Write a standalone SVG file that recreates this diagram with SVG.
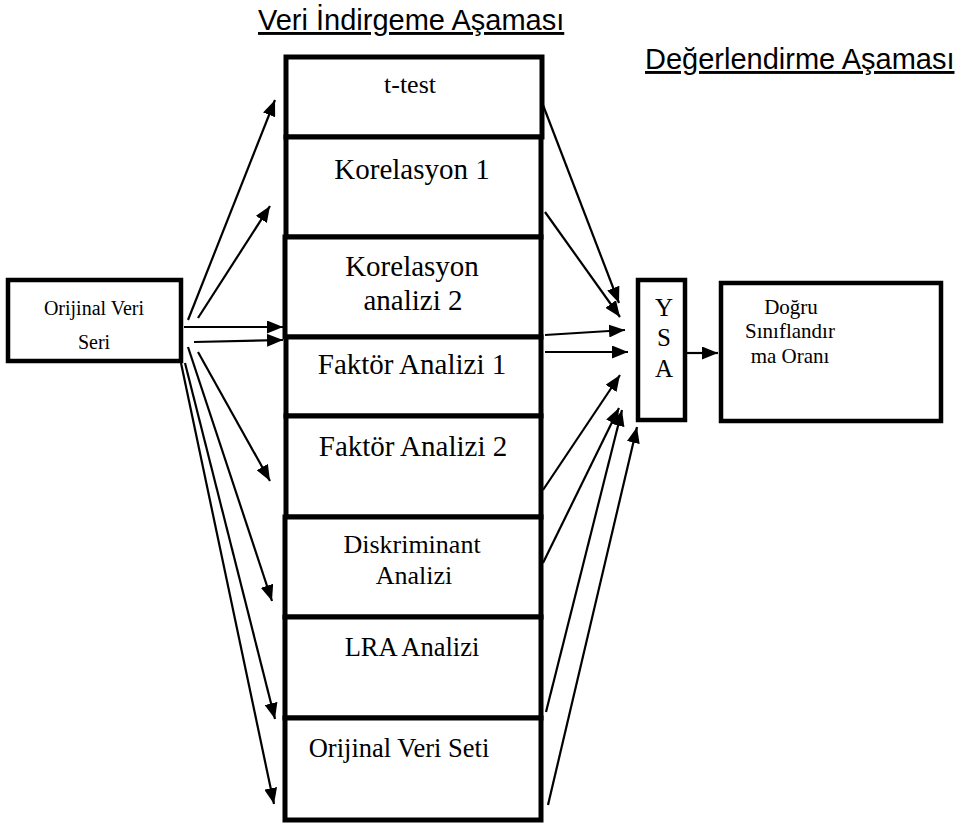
<svg xmlns="http://www.w3.org/2000/svg" width="967" height="826" viewBox="0 0 967 826">
<style>
  .box { fill: #ffffff; stroke: #000000; stroke-width: 5; }
  .thin { fill: #ffffff; stroke: #000000; stroke-width: 4.5; }
  .t { font-family: "Liberation Serif", "Times New Roman", serif; fill: #000000; text-anchor: middle; }
  .title { font-family: "Liberation Sans", Arial, sans-serif; font-size: 29px; fill: #000000; text-decoration: underline; }
  .conn line { stroke: #000000; stroke-width: 2.2; marker-end: url(#ah); }
</style>
<defs>
  <marker id="ah" markerUnits="userSpaceOnUse" markerWidth="16" markerHeight="13" refX="16" refY="6.5" orient="auto">
    <path d="M0,0 L16,6.5 L0,13 z" fill="#000000"/>
  </marker>
</defs>
<rect width="967" height="826" fill="#ffffff"/>

<g id="title-veri">
  <text class="title" x="258" y="30">Veri İndirgeme Aşaması</text>
</g>
<g id="title-degerlendirme">
  <text class="title" x="645" y="69">Değerlendirme Aşaması</text>
</g>

<g id="node-source">
  <rect class="thin" x="8" y="280" width="173" height="81"/>
  <text class="t" x="94" y="315" font-size="20">Orijinal Veri</text>
  <text class="t" x="94" y="349" font-size="20">Seri</text>
</g>

<g id="node-ttest">
  <rect class="box" x="286" y="57" width="256" height="80"/>
  <text class="t" x="410" y="93" font-size="26">t-test</text>
</g>
<g id="node-korelasyon1">
  <rect class="box" x="286" y="137" width="255" height="100"/>
  <text class="t" x="412" y="179" font-size="29">Korelasyon 1</text>
</g>
<g id="node-korelasyon2">
  <rect class="box" x="285" y="237" width="256" height="100"/>
  <text class="t" x="412" y="276" font-size="29">Korelasyon</text>
  <text class="t" x="413" y="310" font-size="29">analizi 2</text>
</g>
<g id="node-faktor1">
  <rect class="box" x="286" y="337" width="255" height="79"/>
  <text class="t" x="412" y="374" font-size="29">Faktör Analizi 1</text>
</g>
<g id="node-faktor2">
  <rect class="box" x="286" y="416" width="255" height="101"/>
  <text class="t" x="413" y="456" font-size="29">Faktör Analizi 2</text>
</g>
<g id="node-diskriminant">
  <rect class="box" x="285" y="517" width="256" height="100"/>
  <text class="t" x="412" y="553" font-size="26">Diskriminant</text>
  <text class="t" x="414" y="584" font-size="26">Analizi</text>
</g>
<g id="node-lra">
  <rect class="box" x="285" y="617" width="256" height="101"/>
  <text class="t" x="412" y="656" font-size="26.5">LRA Analizi</text>
</g>
<g id="node-orijinal">
  <rect class="box" x="285" y="718" width="256" height="102"/>
  <text class="t" x="399" y="757" font-size="26.5">Orijinal Veri Seti</text>
</g>

<g id="node-ysa">
  <rect class="thin" x="638" y="280" width="47" height="140"/>
  <text class="t" x="664" y="316" font-size="25">Y</text>
  <text class="t" x="664" y="346" font-size="25">S</text>
  <text class="t" x="664" y="377" font-size="25">A</text>
</g>

<g id="node-result">
  <rect class="thin" x="721" y="283" width="220" height="138"/>
  <text class="t" x="791" y="314" font-size="21">Doğru</text>
  <text class="t" x="790" y="338" font-size="21">Sınıflandır</text>
  <text class="t" x="790" y="363" font-size="21">ma Oranı</text>
</g>

<g id="connectors" class="conn">
  <line x1="188" y1="320" x2="275" y2="100"/>
  <line x1="198" y1="318" x2="270" y2="206"/>
  <line x1="184" y1="327" x2="283" y2="327"/>
  <line x1="194" y1="342" x2="283" y2="340"/>
  <line x1="198" y1="352" x2="270" y2="481"/>
  <line x1="188" y1="347" x2="272" y2="601"/>
  <line x1="185" y1="363" x2="275" y2="719"/>
  <line x1="181" y1="363" x2="274" y2="804"/>

  <line x1="543" y1="105" x2="619" y2="303"/>
  <line x1="545" y1="212" x2="620" y2="317"/>
  <line x1="545" y1="335" x2="625" y2="330"/>
  <line x1="545" y1="352" x2="628" y2="352"/>
  <line x1="543" y1="490" x2="620" y2="375"/>
  <line x1="543" y1="563" x2="619" y2="408"/>
  <line x1="546" y1="712" x2="622" y2="410"/>
  <line x1="548" y1="805" x2="637" y2="427"/>

  <line x1="687" y1="353" x2="718" y2="353"/>
</g>
</svg>
